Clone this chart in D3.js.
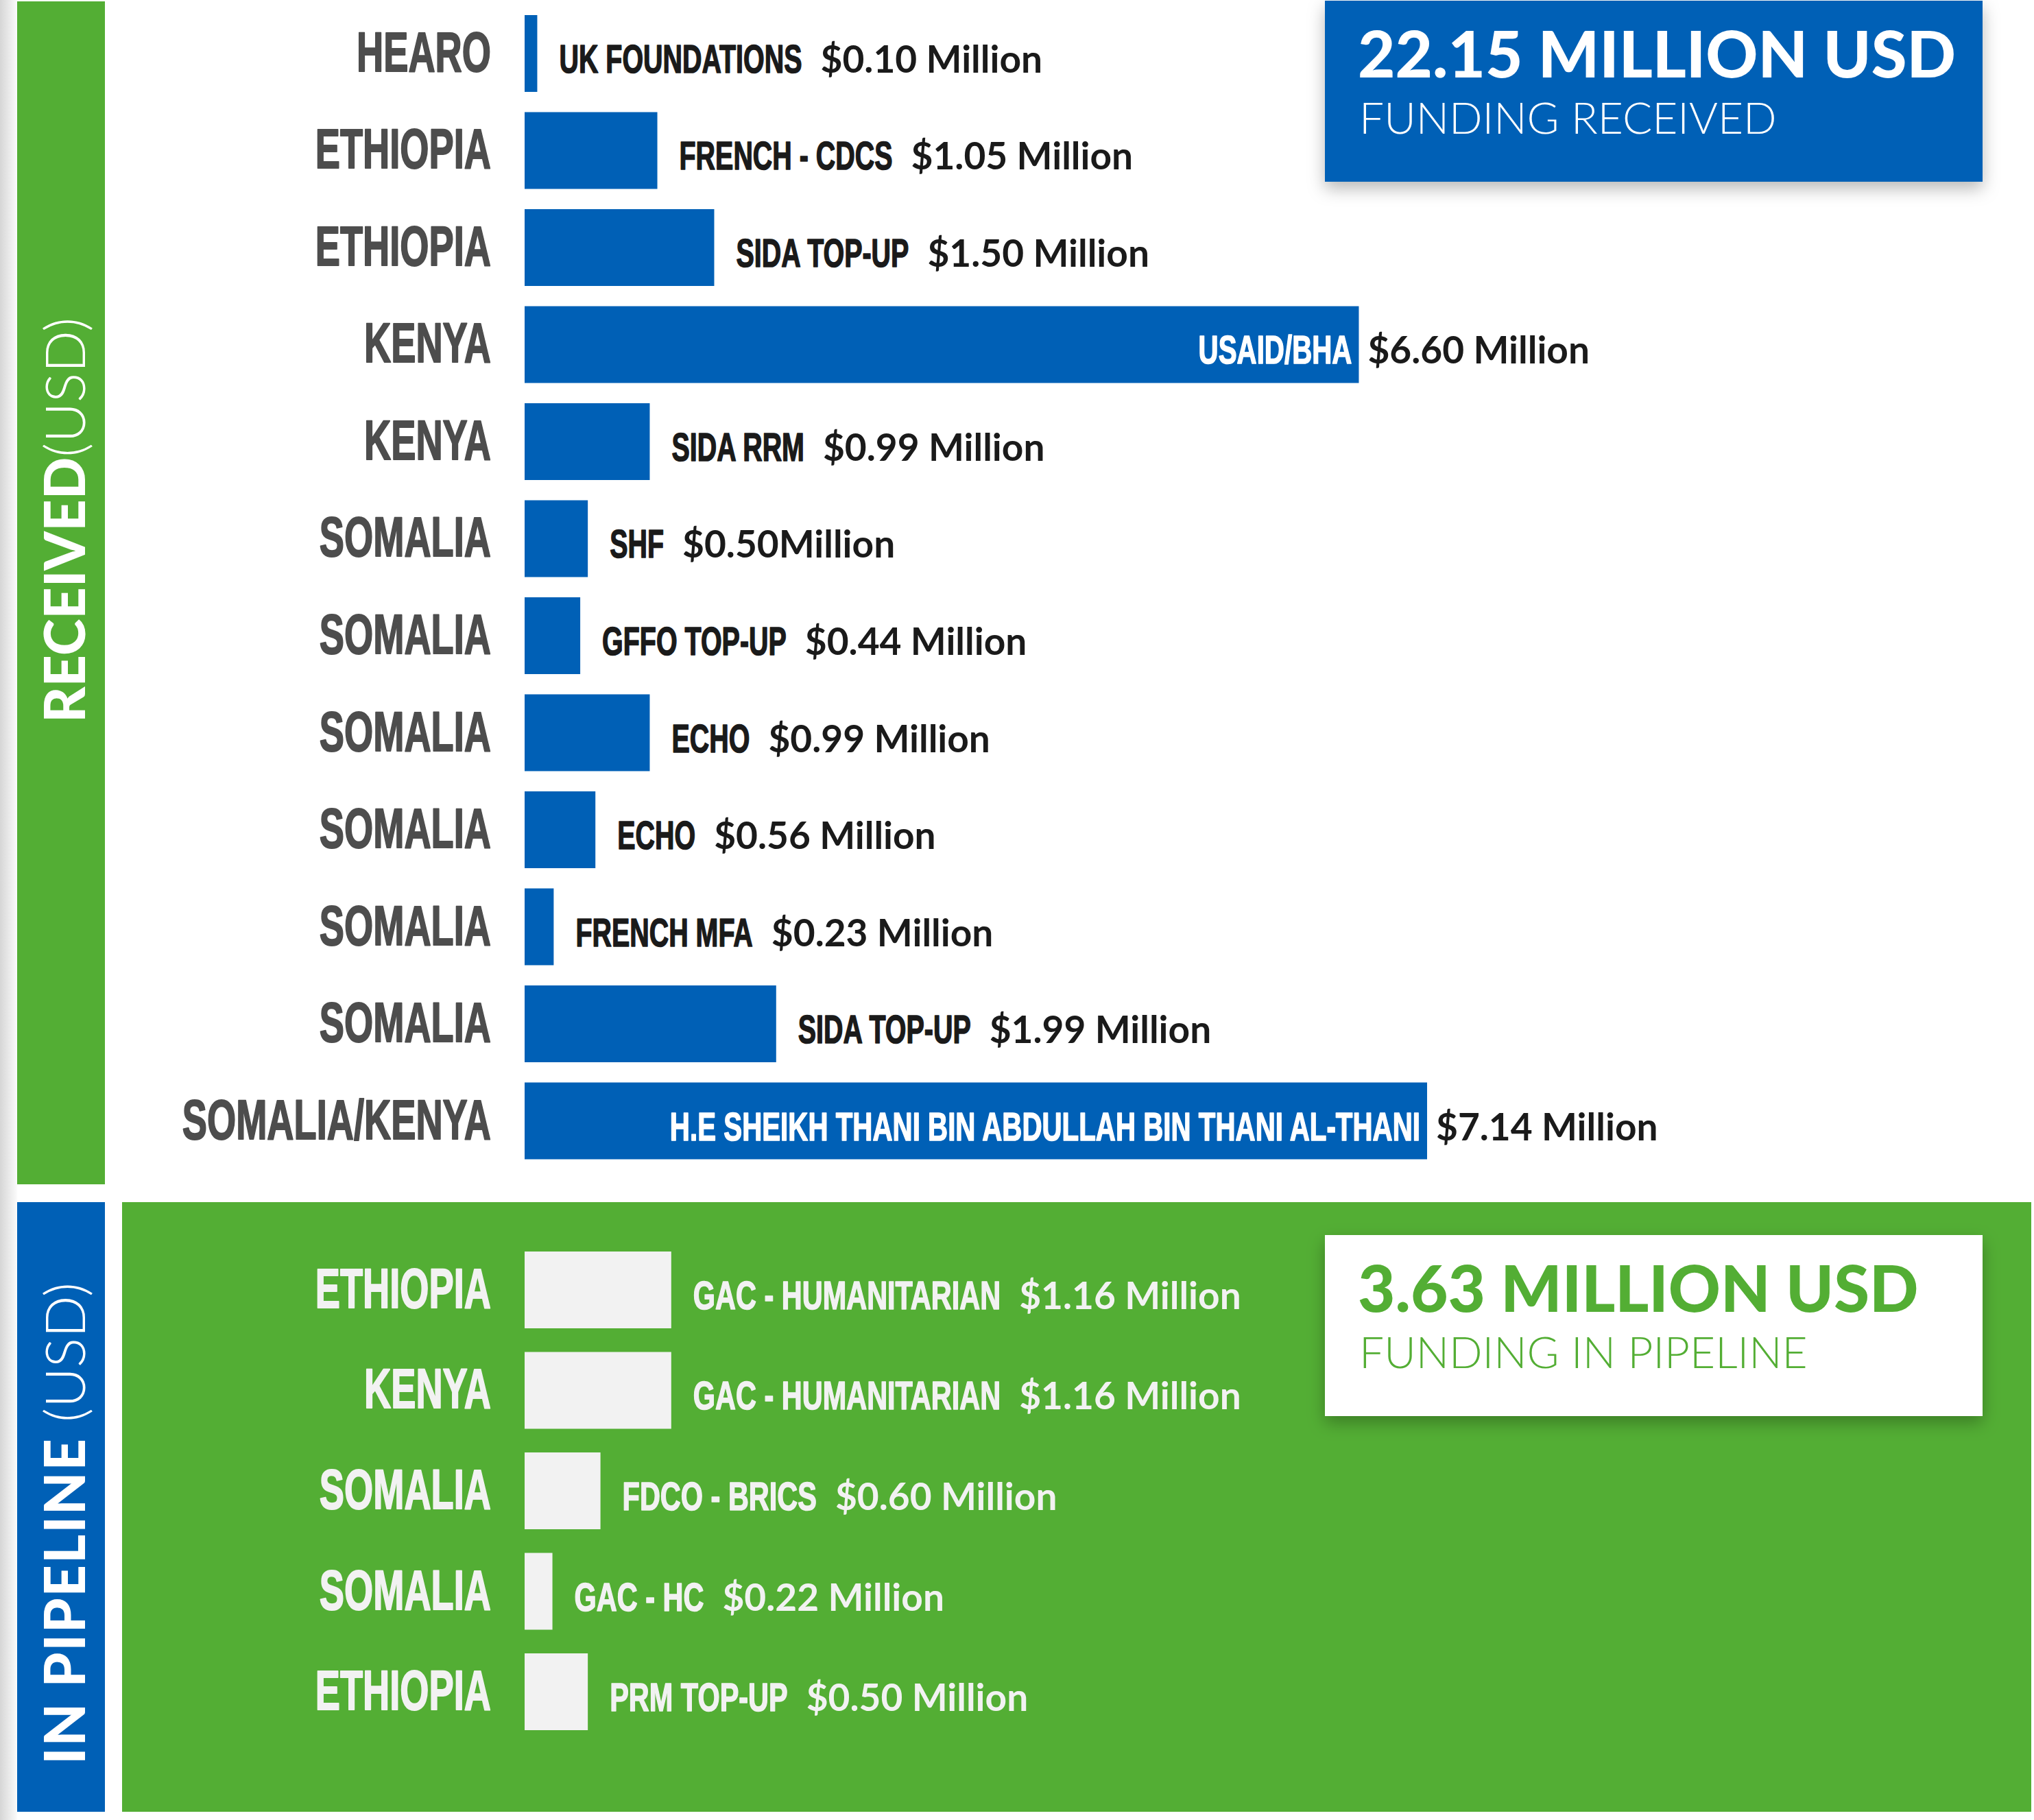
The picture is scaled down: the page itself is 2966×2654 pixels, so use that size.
<!DOCTYPE html>
<html>
<head>
<meta charset="utf-8">
<script src="https://cdn.jsdelivr.net/npm/d3@7"></script>
<style>
  body { margin: 0; background: #fff; }
  svg { display: block; }
</style>
</head>
<body>
<div id="chart"></div>
<script>
// Received funding rows (top to bottom)
const receivedCountries = ["HEARO", "ETHIOPIA", "ETHIOPIA", "KENYA", "KENYA", "SOMALIA", "SOMALIA",
  "SOMALIA", "SOMALIA", "SOMALIA", "SOMALIA", "SOMALIA/KENYA"];
const receivedDonors = ["UK FOUNDATIONS", "FRENCH - CDCS", "SIDA TOP-UP", "USAID/BHA", "SIDA RRM", "SHF",
  "GFFO TOP-UP", "ECHO", "ECHO", "FRENCH MFA", "SIDA TOP-UP",
  "H.E SHEIKH THANI BIN ABDULLAH BIN THANI AL-THANI"];
const receivedValues = [0.10, 1.05, 1.50, 6.60, 0.99, 0.50, 0.44, 0.99, 0.56, 0.23, 1.99, 7.14];
const receivedLabels = ["$0.10 Million", "$1.05 Million", "$1.50 Million", "$6.60 Million", "$0.99 Million",
  "$0.50Million", "$0.44 Million", "$0.99 Million", "$0.56 Million", "$0.23 Million", "$1.99 Million",
  "$7.14 Million"];

// Pipeline rows
const pipelineCountries = ["ETHIOPIA", "KENYA", "SOMALIA", "SOMALIA", "ETHIOPIA"];
const pipelineDonors = ["GAC - HUMANITARIAN", "GAC - HUMANITARIAN", "FDCO - BRICS", "GAC - HC", "PRM TOP-UP"];
const pipelineValues = [1.16, 1.16, 0.60, 0.22, 0.50];
const pipelineLabels = ["$1.16 Million", "$1.16 Million", "$0.60 Million", "$0.22 Million", "$0.50 Million"];

// Totals
const receivedTotal = ["22.15 MILLION USD", "FUNDING RECEIVED"];
const pipelineTotal = ["3.63 MILLION USD", "FUNDING IN PIPELINE"];
const sideTitles = [["RECEIVED", "(USD)"], ["IN PIPELINE", " (USD)"]];

(function() {
  const W = 2966, H = 2654;
  const BLUE = "#0060b6", GREEN = "#53ae34", LIGHT = "#f2f2f2";
  const COND = "'Liberation Sans', Arial, sans-serif";
  const LATO = "Lato, 'Open Sans', sans-serif";

  const svg = d3.select("#chart").append("svg")
    .attr("width", W).attr("height", H);

  const defs = svg.append("defs");
  const grad = defs.append("linearGradient").attr("id", "edge").attr("x1", 0).attr("x2", 1);
  grad.append("stop").attr("offset", 0).attr("stop-color", "#d6d6d6");
  grad.append("stop").attr("offset", 1).attr("stop-color", "#fbfbfb");

  const shadow = defs.append("filter").attr("id", "shadow")
    .attr("x", "-10%").attr("y", "-20%").attr("width", "120%").attr("height", "160%");
  shadow.append("feDropShadow").attr("dx", 0).attr("dy", 10).attr("stdDeviation", 12)
    .attr("flood-color", "#000").attr("flood-opacity", 0.28);

  // page edge shade and panels
  svg.append("rect").attr("x", 0).attr("y", 0).attr("width", 25).attr("height", H).attr("fill", "url(#edge)");
  svg.append("rect").attr("x", 25).attr("y", 2).attr("width", 128).attr("height", 1725).attr("fill", GREEN);
  svg.append("rect").attr("x", 25).attr("y", 1753).attr("width", 128).attr("height", 889).attr("fill", BLUE);
  svg.append("rect").attr("x", 178).attr("y", 1753).attr("width", 2784).attr("height", 889).attr("fill", GREEN);

  // vertical section titles
  const sideStarts = [1054, 2573];
  sideTitles.forEach((parts, i) => {
    const t = svg.append("text")
      .attr("transform", `translate(124,${sideStarts[i]}) rotate(-90)`)
      .attr("fill", "#fff")
      .style("font-family", LATO)
      .style("font-size", "81px");
    t.append("tspan").style("font-weight", 900).style("letter-spacing", i ? "2px" : "0px").text(parts[0]);
    t.append("tspan").style("font-weight", 300).attr("xml:space", "preserve").text(parts[1]);
  });

  // total boxes
  function totalBox(y, fill, color, lines) {
    svg.append("rect").attr("x", 1932).attr("y", y).attr("width", 959).attr("height", 264)
      .attr("fill", fill).attr("filter", "url(#shadow)");
    svg.append("text").attr("x", 1980).attr("y", y + 112).attr("fill", color)
      .style("font-family", LATO).style("font-weight", 900).style("font-size", "94px")
      .text(lines[0]);
    svg.append("text").attr("x", 1982).attr("y", y + 194).attr("fill", color)
      .style("font-family", LATO).style("font-weight", 300).style("font-size", "64px")
      .text(lines[1]);
  }
  totalBox(1, BLUE, "#fff", receivedTotal);
  totalBox(1801, "#fff", GREEN, pipelineTotal);

  // shared value scale
  const x = d3.scaleLinear()
    .domain([0, d3.max(receivedValues)])
    .range([765, 2081]);

  // condensed bold text: a regular face squeezed horizontally, thickened a little with a stroke
  function condensed(parent, px, py, str, o) {
    const g = parent.append("g").attr("transform", `translate(${px},${py}) scale(${o.sx},1)`);
    const t = g.append("text")
      .attr("text-anchor", o.anchor || "start")
      .attr("fill", o.fill)
      .attr("stroke", o.fill)
      .attr("stroke-width", o.stroke || 1.6)
      .attr("stroke-linejoin", "round")
      .style("font-family", COND)
      .style("font-weight", 700)
      .style("font-size", o.size + "px")
      .text(str);
    return t.node().getComputedTextLength() * o.sx;
  }

  function valueText(parent, px, py, str, fill) {
    parent.append("text").attr("x", px).attr("y", py).attr("fill", fill)
      .style("font-family", LATO).style("font-weight", 700).style("font-size", "55px")
      .text(str);
  }

  function drawRows(s) {
    const y = d3.scaleBand()
      .domain(d3.range(s.values.length))
      .range(s.yRange)
      .paddingInner(s.pad)
      .paddingOuter(0);

    const g = svg.append("g");

    g.selectAll("rect.bar")
      .data(s.values)
      .join("rect")
      .attr("class", "bar")
      .attr("x", x(0))
      .attr("y", (d, i) => y(i))
      .attr("width", d => x(d) - x(0))
      .attr("height", y.bandwidth())
      .attr("fill", s.barColor);

    s.values.forEach((v, i) => {
      const cy = y(i) + y.bandwidth() / 2;
      condensed(g, 716, cy + 26, s.countries[i], { sx: 0.67, size: 81, stroke: 2, fill: s.countryColor, anchor: "end" });

      const end = x(v);
      if (v > 5) {
        // long bars carry the donor name inside
        condensed(g, end - 10, cy + 28, s.donors[i], { sx: s.donorSx + 0.015, size: 58, fill: "#fff", anchor: "end" });
        valueText(g, end + 13, cy + 28, s.labels[i], s.textColor);
      } else {
        const w = condensed(g, end + 32, cy + 28, s.donors[i], { sx: s.donorSx, size: 58, fill: s.textColor });
        valueText(g, end + 32 + w + 27, cy + 28, s.labels[i], s.textColor);
      }
    });
  }

  drawRows({
    countries: receivedCountries, donors: receivedDonors, values: receivedValues, labels: receivedLabels,
    yRange: [22, 1690.5], pad: 0.2085, barColor: BLUE,
    countryColor: "#4d4d4d", textColor: "#1a1a1a", donorSx: 0.68
  });

  drawRows({
    countries: pipelineCountries, donors: pipelineDonors, values: pipelineValues, labels: pipelineLabels,
    yRange: [1825, 2523], pad: 0.2355, barColor: LIGHT,
    countryColor: LIGHT, textColor: LIGHT, donorSx: 0.715
  });
})();
</script>
</body>
</html>
